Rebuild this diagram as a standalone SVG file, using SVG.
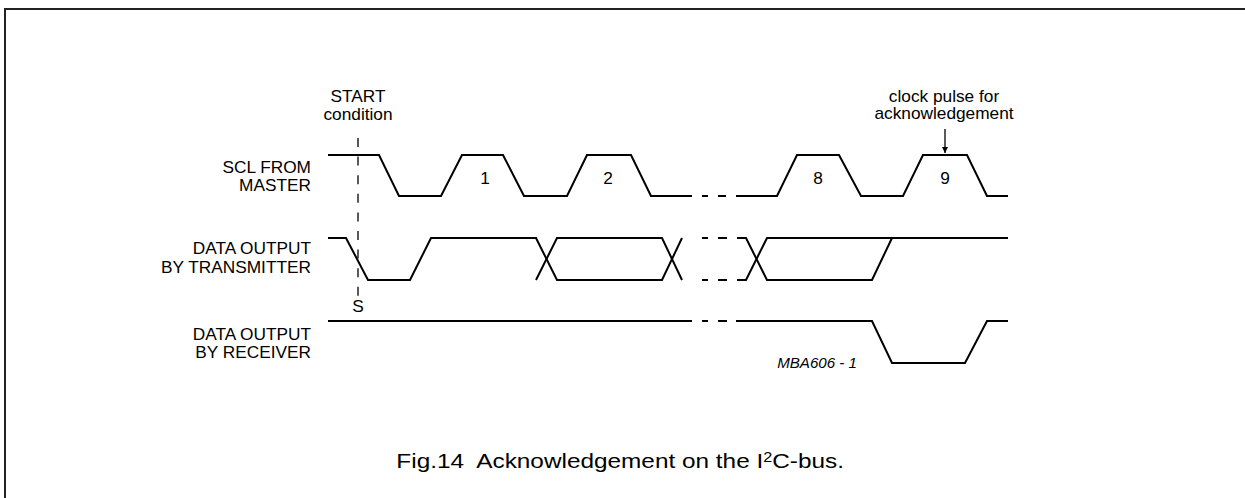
<svg xmlns="http://www.w3.org/2000/svg" width="1245" height="498" viewBox="0 0 1245 498">
<defs>
<style>
.w{fill:none;stroke:#000;stroke-width:2;stroke-linejoin:miter}
.t{font-family:"Liberation Sans",Arial,Helvetica,sans-serif;font-size:16px;fill:#000}
.e{text-anchor:end}
.m{text-anchor:middle}
.cap{font-family:"Liberation Sans",Arial,Helvetica,sans-serif;font-size:21px;fill:#000}
.it{font-family:"Liberation Sans",Arial,Helvetica,sans-serif;font-size:14px;font-style:italic;fill:#000}
</style>
<marker id="ah" viewBox="0 0 10 10" refX="10" refY="5" markerWidth="6" markerHeight="13" markerUnits="userSpaceOnUse" orient="auto">
<path d="M0,0 L10,5 L0,10 Z" fill="#000"/>
</marker>
</defs>
<rect width="1245" height="498" fill="#fff"/>
<path d="M5,498 V9 H1245" fill="none" stroke="#222" stroke-width="2"/>

<g id="start-marker">
<text class="t m" transform="translate(358 102) scale(1.08 1)">START</text>
<text class="t m" transform="translate(358 120) scale(1.08 1)">condition</text>
<line x1="358" y1="138" x2="358" y2="296" stroke="#000" stroke-width="1.3" stroke-dasharray="9 9.6"/>
<text class="t m" transform="translate(358 312) scale(1.08 1)">S</text>
</g>

<g id="scl">
<text class="t e" transform="translate(311 173) scale(1.08 1)">SCL FROM</text>
<text class="t e" transform="translate(311 191) scale(1.08 1)">MASTER</text>
<path class="w" d="M328,155 H379 L399,196 H441 L462,155 H503 L524,196 H567 L587,155 H631 L651,196 H692"/>
<path class="w" d="M702,196 H708 M718,196 H726"/>
<path class="w" d="M736,196 H777 L797,155 H839 L861,196 H903 L923,155 H967 L987,196 H1008"/>
<text class="t m" transform="translate(485 184) scale(1.08 1)">1</text>
<text class="t m" transform="translate(608 184) scale(1.08 1)">2</text>
<text class="t m" transform="translate(818 184) scale(1.08 1)">8</text>
<text class="t m" transform="translate(945 184) scale(1.08 1)">9</text>
</g>

<g id="ack-note">
<text class="t m" transform="translate(944 102) scale(1.08 1)">clock pulse for</text>
<text class="t m" transform="translate(944 119) scale(1.08 1)">acknowledgement</text>
</g>

<g id="transmitter">
<text class="t e" transform="translate(311 254) scale(1.08 1)">DATA OUTPUT</text>
<text class="t e" transform="translate(311 273) scale(1.08 1)">BY TRANSMITTER</text>
<path class="w" d="M328,238 H346 L368,280 H410 L431,238 H536 L557,280 H662 L682,238"/>
<path class="w" d="M536,280 L557,238 H662 L682,280"/>
<path class="w" d="M702,238 H708 M718,238 H727 M702,280 H708 M718,280 H727"/>
<path class="w" d="M737,238 H746 L767,280 H872 L892,238"/>
<path class="w" d="M737,280 H746 L767,238 H1008"/>
</g>

<g id="receiver">
<text class="t e" transform="translate(311 340) scale(1.08 1)">DATA OUTPUT</text>
<text class="t e" transform="translate(311 358) scale(1.08 1)">BY RECEIVER</text>
<path class="w" d="M328,321 H692 M702,321 H708 M718,321 H727 M736,321 H872 L892,363 H965 L987,321 H1008"/>
<text class="it e" transform="translate(857 368) scale(1.08 1)">MBA606 - 1</text>
</g>

<g id="connectors">
<line x1="945" y1="129" x2="945" y2="153" stroke="#000" stroke-width="1.3" marker-end="url(#ah)"/>
</g>

<g id="caption">
<text class="cap e" xml:space="preserve" transform="translate(844 468) scale(1.16 1)">Fig.14  Acknowledgement on the I<tspan font-size="14" dy="-6">2</tspan><tspan dy="6">C-bus.</tspan></text>
</g>
</svg>
